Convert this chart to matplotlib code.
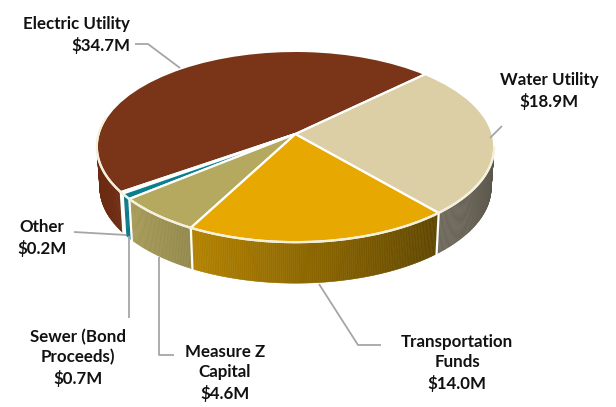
import matplotlib
matplotlib.use("Agg")
import numpy as np
import matplotlib.pyplot as plt
from matplotlib.transforms import Transform

categories = ["Electric Utility", "Other", "Sewer (Bond Proceeds)", "Measure Z Capital", "Transportation Funds", "Water Utility"]
values = [34.7, 0.2, 0.7, 4.6, 14.0, 18.9]
top_colors = ["#7a3417", "#dfeaea", "#0c7f8e", "#b5a95f", "#e8a802", "#dccfa6"]
wall_left = ["#6a2a10", "#dfeaea", "#0b7a88", "#a89c58", "#b48300", "#6f6a5c"]
wall_right = ["#6f2e14", "#dfeaea", "#0b7a88", "#94894c", "#5e4500", "#5a554a"]
labels = ["Electric Utility\n$34.7M", "Water Utility\n$18.9M", "Other\n$0.2M",
          "Sewer (Bond\nProceeds)\n$0.7M", "Measure Z\nCapital\n$4.6M", "Transportation\nFunds\n$14.0M"]
label_pos = [(130, 35, "right"), (549, 91, "center"), (42, 238, "center"),
             (78, 358, "center"), (225, 373, "center"), (457, 363, "center")]
leaders = [[(135, 44), (148, 44), (180, 68)], [(502, 126), (490, 138)], [(74, 232), (126, 235)],
           [(129, 236), (129, 318)], [(159, 257), (159, 355), (174, 355)], [(319, 284), (358, 345), (381, 345)]]

START = 44.0
CX, CY, A, B, K = 295.5, 134.0, 197.0, 94.0, 0.131
DEPTH, BOTTOM_SCALE = 41.0, 0.985


class DiscToPixels(Transform):
    input_dims = output_dims = 2
    is_separable = False
    has_inverse = False

    def transform_non_affine(self, xy):
        xy = np.asarray(xy, float)
        w = 1 + K * xy[:, 1]
        return np.column_stack([CX + A * xy[:, 0] / w, CY - B * xy[:, 1] / w])


fig = plt.figure(figsize=(6.16, 4.07), dpi=100)
ax = fig.add_axes([0, 0, 1, 1])
wedges, _ = ax.pie(values, colors=top_colors, startangle=START, counterclock=True,
                   wedgeprops=dict(edgecolor="white", linewidth=1.6))
ax.set_aspect("auto")
ax.set_xlim(0, 616)
ax.set_ylim(407, 0)
ax.axis("off")
to_px = DiscToPixels()
for w in wedges:
    w.set_transform(to_px + ax.transData)
    w.set_zorder(3)


def rim(deg, scale=1.0, dy=0.0):
    t = np.radians(deg)
    p = to_px.transform_non_affine(np.column_stack([np.cos(t), np.sin(t)]))
    p[:, 0] = CX + (p[:, 0] - CX) * scale
    p[:, 1] += dy
    return p


def lerp(c1, c2, f):
    a, b = matplotlib.colors.to_rgb(c1), matplotlib.colors.to_rgb(c2)
    return tuple(x + (y - x) * f for x, y in zip(a, b))


VIS_LO, VIS_HI = 190.0, 352.0
edges = START + 360 * np.concatenate([[0], np.cumsum(values)]) / sum(values)
for i in range(len(values)):
    lo, hi = max(edges[i], VIS_LO), min(edges[i + 1], VIS_HI)
    if hi <= lo:
        continue
    n = max(2, int((hi - lo) * 2))
    th = np.linspace(lo, hi, n + 1)
    for j in range(n):
        seg = np.array([th[j], th[j + 1]])
        top = rim(seg)
        bot = rim(seg, BOTTOM_SCALE, DEPTH)
        c = lerp(wall_left[i], wall_right[i], (j + .5) / n)
        ax.fill(np.r_[top[:, 0], bot[::-1, 0]], np.r_[top[:, 1], bot[::-1, 1]],
                color=c, lw=0.4, zorder=1)
    # white divider at the slice's start and along its rim
    if edges[i] >= VIS_LO:
        p, q = rim([lo])[0], rim([lo], BOTTOM_SCALE, DEPTH)[0]
        ax.plot([p[0], q[0]], [p[1], q[1]], color="white", lw=1.6, zorder=2)

arc = rim(np.linspace(VIS_LO - 20, VIS_HI, 200))
ax.plot(arc[:, 0], arc[:, 1], color="#f5f0dc", lw=1.6, zorder=4)

for pts in leaders:
    xs, ys = zip(*pts)
    ax.plot(xs, ys, color="#a6a6a6", lw=1.3, zorder=5, solid_capstyle="butt")

for text, (x, y, ha) in zip(labels, label_pos):
    ax.text(x, y, text, ha=ha, va="center", fontsize=12.2, fontweight="bold",
            family="Lato", color="#111111", linespacing=1.32, zorder=6)

fig.savefig("out.png", dpi=100)
